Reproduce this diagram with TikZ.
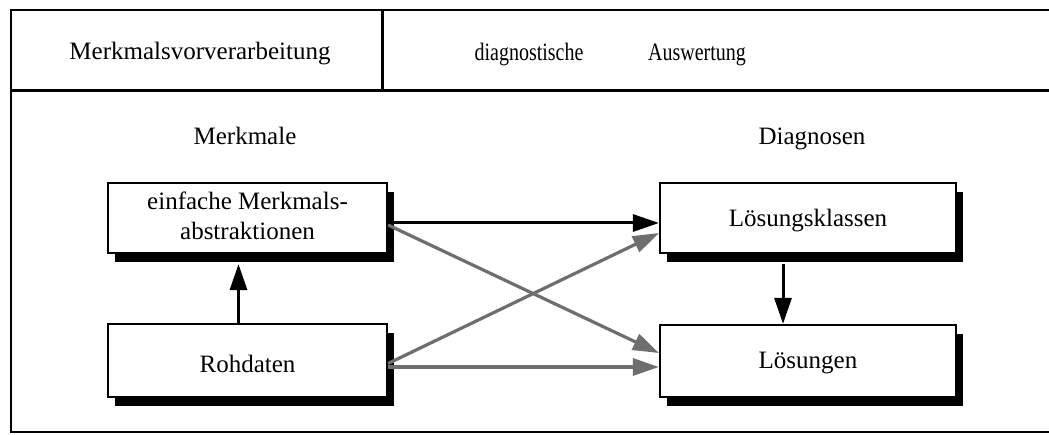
\documentclass[tikz,border=0pt]{standalone}
\usepackage{fontspec}
\setmainfont{Liberation Serif}
\newfontfamily\narrowserif[FakeStretch=0.8]{Liberation Serif}
\usetikzlibrary{arrows.meta,shadows}

\newcommand{\boxfont}{\fontsize{25}{30}\selectfont}
% place a label so that its baseline sits #1 below the node centre
\newcommand{\baseat}[2]{\raisebox{#1}[0pt][0pt]{#2}}

\tikzset{
  frameline/.style={line width=2.2pt, black},
  headline/.style={line width=3pt, black},
  txt/.style={font=\boxfont, inner sep=0pt, anchor=base},
  hdr/.style={font=\narrowserif\boxfont, inner sep=0pt, anchor=base},
  modbox/.style={draw=black, line width=2.2pt, fill=white,
    font=\boxfont, inner sep=0pt,
    general shadow={shadow xshift=7pt, shadow yshift=-9pt, fill=black}},
  blkarrow/.style={line width=3pt, black,
    -{Triangle[length=26pt, width=17pt]}},
  grayarrow/.style={line width=3.2pt, black!57,
    -{Triangle[length=26pt, width=17pt]}}
}

\begin{document}
\begin{tikzpicture}[x=1pt, y=-1pt]
  \useasboundingbox (0,0) rectangle (1049,435);
  \fill[white] (0,0) rectangle (1049,435);

  % outer frame (open to the right) and header band
  \draw[frameline] (1049,10) -- (11,10) -- (11,432) -- (1049,432);
  \draw[headline] (11,91) -- (1049,91);
  \draw[headline] (382,10) -- (382,91);

  % header captions
  \node[txt] (hl) at (200,60) {Merkmalsvorverarbeitung};
  \node[hdr] (hd) at (529,61) {diagnostische};
  \node[hdr] (ha) at (697,61) {Auswertung};

  % column captions
  \node[txt] (cm) at (245,145) {Merkmale};
  \node[txt] (cd) at (812,145) {Diagnosen};

  % feature boxes
  \node[modbox, minimum width=279pt, minimum height=70pt] (abs) at (247.5,218)
    {\baseat{8pt}{\begin{tabular}[t]{@{}c@{}}einfache Merkmals-\\abstraktionen\end{tabular}}};
  \node[modbox, minimum width=279pt, minimum height=73pt] (roh) at (247.5,360.5)
    {\baseat{-12.5pt}{Rohdaten}};

  % diagnosis boxes
  \node[modbox, minimum width=296pt, minimum height=70pt] (lk) at (808,218)
    {\baseat{-9pt}{Lösungsklassen}};
  \node[modbox, minimum width=296pt, minimum height=72pt] (lo) at (808,361)
    {\baseat{-7.5pt}{Lösungen}};

  % connectors
  \draw[blkarrow] ([xshift=-9pt]roh.north) -- ([xshift=-9pt, yshift=-10pt]abs.south);
  \draw[blkarrow] ([xshift=-25pt, yshift=-10pt]lk.south) -- ([xshift=-25pt]lo.north);
  \draw[grayarrow] ([yshift=-7pt]abs.east) -- ([yshift=8pt]lo.west);
  \draw[grayarrow] ([yshift=-3pt]roh.east) -- ([yshift=-15pt]lk.west);
  \draw[grayarrow] ([yshift=-6.5pt]roh.east) -- ([yshift=-6pt]lo.west);
  \draw[blkarrow] ([yshift=-5pt]abs.east) -- ([yshift=-5pt]lk.west);
\end{tikzpicture}
\end{document}
